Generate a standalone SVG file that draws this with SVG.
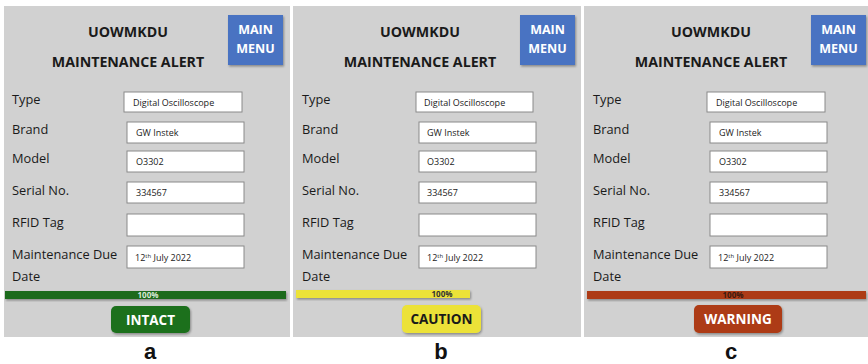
<svg xmlns="http://www.w3.org/2000/svg" width="868" height="364" viewBox="0 0 868 364">
<style>
.panel{fill:#d1d1d1}
.title{font-family:"Open Sans","Liberation Sans",sans-serif;font-weight:bold;font-size:14.2px;fill:#1a1a1a;text-anchor:middle}
.menu{fill:#4a73c2}
.menut{font-family:"Open Sans","Liberation Sans",sans-serif;font-weight:bold;font-size:12.5px;fill:#ffffff;text-anchor:middle}
.lbl{font-family:"Open Sans","Liberation Sans",sans-serif;font-size:12.8px;fill:#1a1a1a}
.box{fill:#ffffff;stroke:#8a8a8a;stroke-width:1}
.val{font-family:"Open Sans","Liberation Sans",sans-serif;font-size:9px;fill:#222}
.sup{font-size:6px}
.pct{font-family:"Open Sans","Liberation Sans",sans-serif;font-size:8px;font-weight:bold;text-anchor:middle}
.btnt{font-family:"Open Sans","Liberation Sans",sans-serif;font-weight:bold;font-size:13.5px;text-anchor:middle}
.cap{font-family:"Liberation Sans",Arial,sans-serif;font-weight:bold;font-size:22px;fill:#111;text-anchor:middle}
</style>
<defs>
<filter id="sh" x="-10%" y="-20%" width="125%" height="150%">
<feDropShadow dx="1" dy="1.5" stdDeviation="1" flood-color="#000" flood-opacity="0.35"/>
</filter>
</defs>
<rect width="868" height="364" fill="#ffffff"/>

<g id="panel-a">
<rect class="panel" x="4" y="6" width="286" height="331"/>
<text class="title" x="128" y="37">UOWMKDU</text>
<text class="title" x="128" y="67">MAINTENANCE ALERT</text>
<rect class="menu" x="228" y="15" width="55" height="50" filter="url(#sh)"/>
<text class="menut" x="255.5" y="34">MAIN</text>
<text class="menut" x="255.5" y="53">MENU</text>
<text class="lbl" x="12" y="104">Type</text>
<text class="lbl" x="12" y="134">Brand</text>
<text class="lbl" x="12" y="163">Model</text>
<text class="lbl" x="12" y="195">Serial No.</text>
<text class="lbl" x="12" y="227">RFID Tag</text>
<text class="lbl" x="12" y="259">Maintenance Due</text>
<text class="lbl" x="12" y="281">Date</text>
<rect class="box" x="124" y="92" width="118" height="20"/>
<text class="val" x="133" y="106">Digital Oscilloscope</text>
<rect class="box" x="127" y="122" width="117" height="21"/>
<text class="val" x="136" y="136">GW Instek</text>
<rect class="box" x="127" y="151" width="117" height="21"/>
<text class="val" x="136" y="165">O3302</text>
<rect class="box" x="127" y="182" width="117" height="21"/>
<text class="val" x="136" y="196">334567</text>
<rect class="box" x="127" y="214" width="117" height="22"/>
<rect class="box" x="127" y="246" width="117" height="22"/>
<text class="val" x="135" y="261">12<tspan class="sup" dy="-3">th</tspan><tspan dy="3"> July 2022</tspan></text>
<rect x="5" y="291" width="281" height="8" fill="#1c6b1c" filter="url(#sh)"/>
<text class="pct" x="148" y="298" fill="#d9e8d9">100%</text>
<rect x="111" y="306" width="79" height="27" rx="5" fill="#1e701e" filter="url(#sh)"/>
<text class="btnt" x="150.5" y="324.5" fill="#ffffff">INTACT</text>
</g>

<g id="panel-b">
<rect class="panel" x="293" y="6" width="288" height="331"/>
<text class="title" x="420" y="37">UOWMKDU</text>
<text class="title" x="420" y="67">MAINTENANCE ALERT</text>
<rect class="menu" x="520" y="15" width="55" height="50" filter="url(#sh)"/>
<text class="menut" x="547.5" y="34">MAIN</text>
<text class="menut" x="547.5" y="53">MENU</text>
<text class="lbl" x="302" y="104">Type</text>
<text class="lbl" x="302" y="134">Brand</text>
<text class="lbl" x="302" y="163">Model</text>
<text class="lbl" x="302" y="195">Serial No.</text>
<text class="lbl" x="302" y="227">RFID Tag</text>
<text class="lbl" x="302" y="259">Maintenance Due</text>
<text class="lbl" x="302" y="281">Date</text>
<rect class="box" x="416" y="92" width="117" height="20"/>
<text class="val" x="424" y="106">Digital Oscilloscope</text>
<rect class="box" x="419" y="122" width="117" height="21"/>
<text class="val" x="427" y="136">GW Instek</text>
<rect class="box" x="419" y="151" width="117" height="21"/>
<text class="val" x="427" y="165">O3302</text>
<rect class="box" x="419" y="182" width="117" height="21"/>
<text class="val" x="427" y="196">334567</text>
<rect class="box" x="419" y="214" width="117" height="22"/>
<rect class="box" x="419" y="246" width="117" height="22"/>
<text class="val" x="427" y="261">12<tspan class="sup" dy="-3">th</tspan><tspan dy="3"> July 2022</tspan></text>
<rect x="296" y="290" width="174" height="8" fill="#ece238" filter="url(#sh)"/>
<text class="pct" x="442" y="297" fill="#333">100%</text>
<rect x="402" y="305" width="79" height="28" rx="5" fill="#ece238" filter="url(#sh)"/>
<text class="btnt" x="441.5" y="324" fill="#1a1a1a">CAUTION</text>
</g>

<g id="panel-c">
<rect class="panel" x="584" y="6" width="284" height="331"/>
<text class="title" x="711" y="37">UOWMKDU</text>
<text class="title" x="711" y="67">MAINTENANCE ALERT</text>
<rect class="menu" x="811" y="15" width="55" height="50" filter="url(#sh)"/>
<text class="menut" x="838.5" y="34">MAIN</text>
<text class="menut" x="838.5" y="53">MENU</text>
<text class="lbl" x="593" y="104">Type</text>
<text class="lbl" x="593" y="134">Brand</text>
<text class="lbl" x="593" y="163">Model</text>
<text class="lbl" x="593" y="195">Serial No.</text>
<text class="lbl" x="593" y="227">RFID Tag</text>
<text class="lbl" x="593" y="259">Maintenance Due</text>
<text class="lbl" x="593" y="281">Date</text>
<rect class="box" x="707" y="92" width="118" height="20"/>
<text class="val" x="716" y="106">Digital Oscilloscope</text>
<rect class="box" x="710" y="122" width="117" height="21"/>
<text class="val" x="719" y="136">GW Instek</text>
<rect class="box" x="710" y="151" width="117" height="21"/>
<text class="val" x="719" y="165">O3302</text>
<rect class="box" x="710" y="182" width="117" height="21"/>
<text class="val" x="719" y="196">334567</text>
<rect class="box" x="710" y="214" width="117" height="22"/>
<rect class="box" x="710" y="246" width="117" height="22"/>
<text class="val" x="718" y="261">12<tspan class="sup" dy="-3">th</tspan><tspan dy="3"> July 2022</tspan></text>
<rect x="587" y="291" width="279" height="8" fill="#ad3a12" filter="url(#sh)"/>
<text class="pct" x="733" y="298" fill="#3a1a10">100%</text>
<rect x="694" y="305" width="88" height="28" rx="5" fill="#ad3a12" filter="url(#sh)"/>
<text class="btnt" x="738" y="324" fill="#ffffff">WARNING</text>
</g>

<g id="captions">
<text class="cap" x="150" y="359">a</text>
<text class="cap" x="441" y="359">b</text>
<text class="cap" x="731" y="359">c</text>
</g>
</svg>
